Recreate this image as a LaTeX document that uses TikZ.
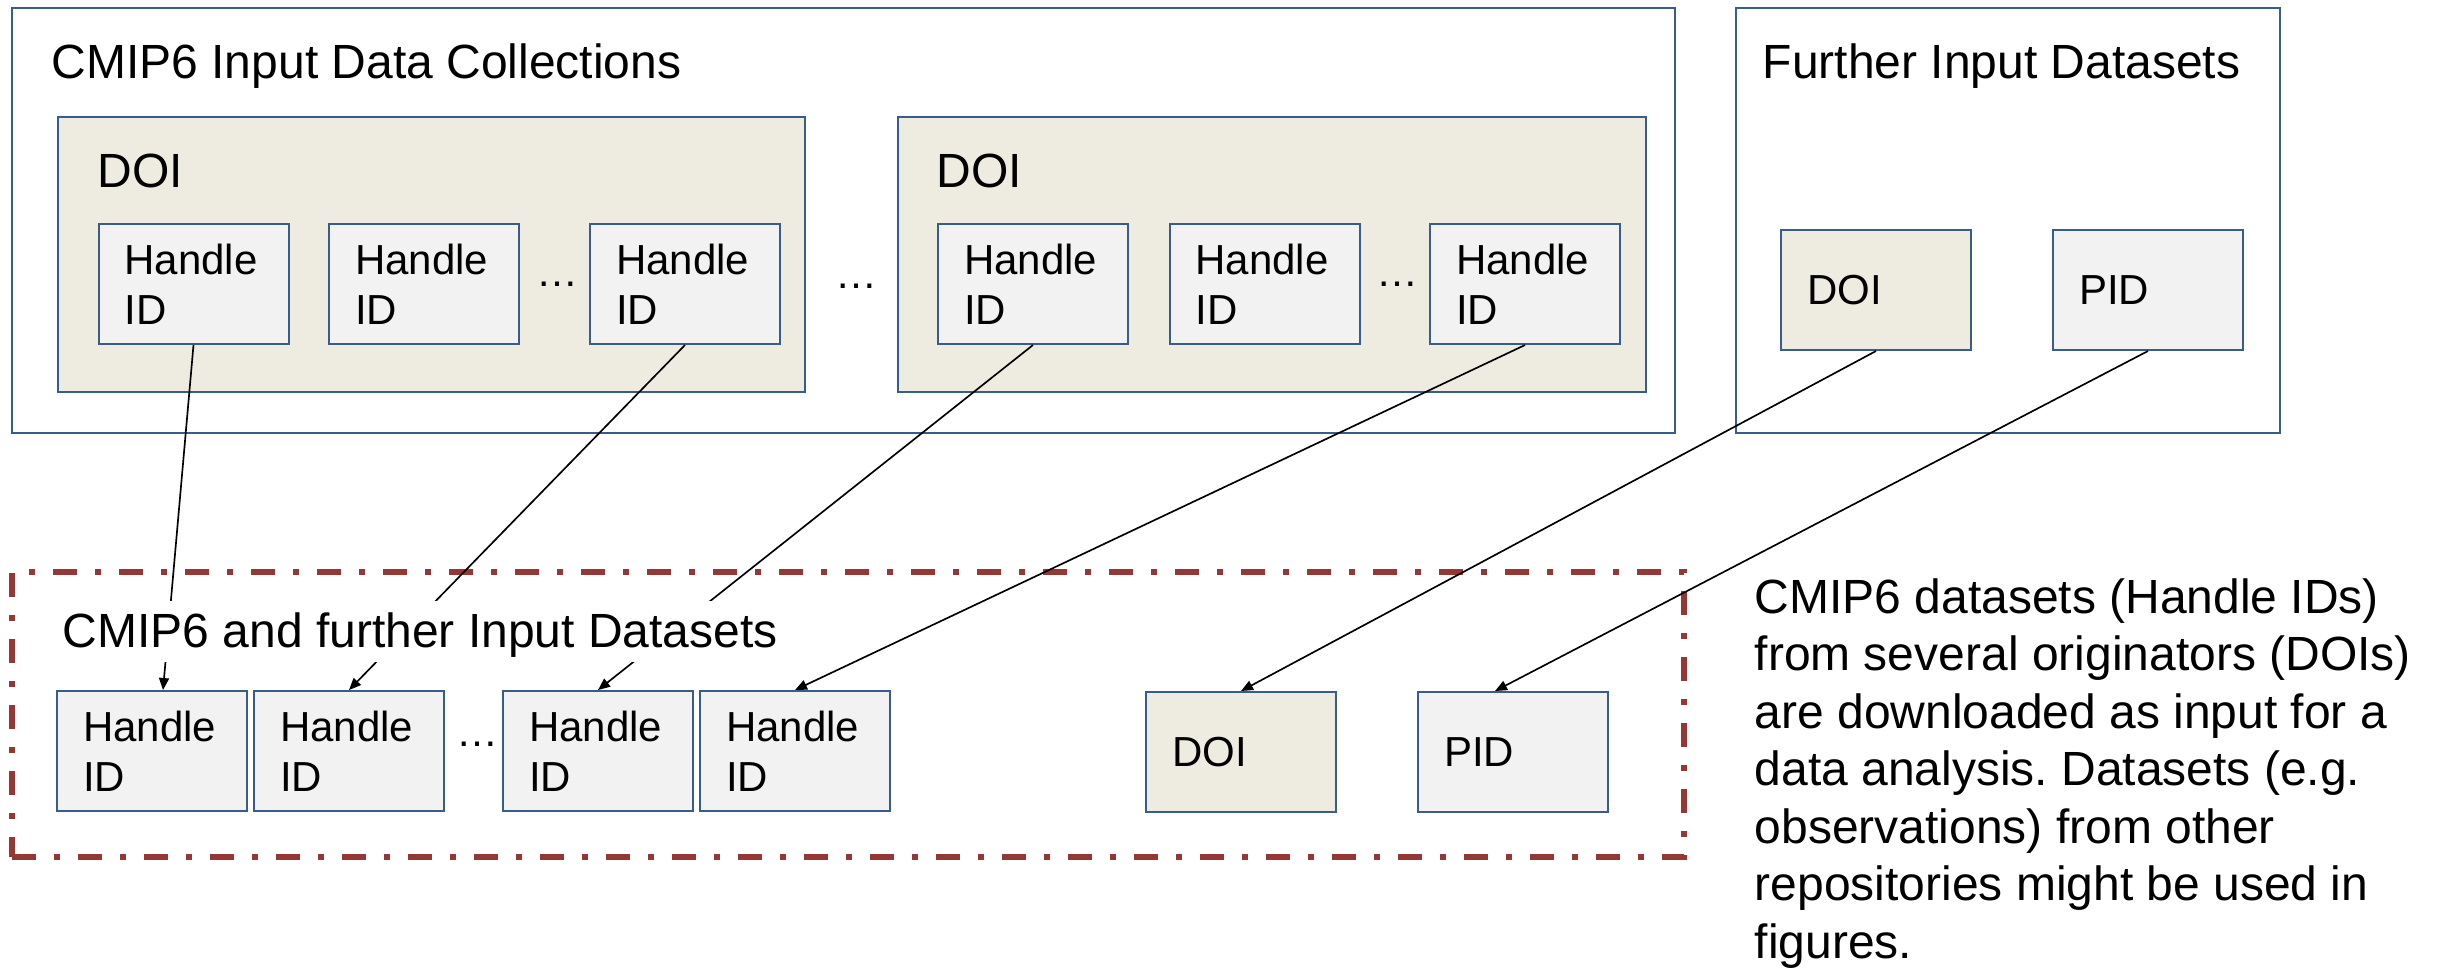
\documentclass[tikz,border=0pt]{standalone}
\usepackage{fontspec}
\setmainfont{Liberation Sans}
\usetikzlibrary{fit,calc,arrows.meta}
\definecolor{bordc}{HTML}{385D8A}
\definecolor{beige}{HTML}{EEECE1}
\definecolor{lgray}{HTML}{F2F2F2}
\definecolor{dred}{HTML}{953735}
\frenchspacing
\begin{document}
\begin{tikzpicture}[x=0.3pt,y=-0.3pt,
  frame/.style={draw=bordc, line width=0.6pt, inner sep=0pt},
  bigfont/.style={font=\fontsize{14.4}{17}\selectfont},
  smallfont/.style={font=\fontsize{12.6}{15}\selectfont},
  hbox/.style={frame, fill=lgray, smallfont, minimum width=57pt, minimum height=36pt,
     text width=41.4pt, inner xsep=7.8pt, inner ysep=0pt, align=left},
  dbox/.style={hbox, fill=beige},
  conn/.style={draw=black, line width=0.5pt, -{Triangle[length=3.6pt,width=3pt]}},
  dotsnode/.style={smallfont, anchor=base, inner sep=0pt}
]
\useasboundingbox (0,0) rectangle (2438,968);

% top left collection frame
\node[frame, fit={(12,8) (1675,433)}] (outerA) {};
\node[bigfont, anchor=base west, inner sep=0pt] (titleA) at (51,78) {CMIP6 Input Data Collections};

\node[frame, fill=beige, fit={(57.5,117) (805,392)}] (doiA) {};
\node[bigfont, anchor=base west, inner sep=0pt] (doiAlbl) at (97,187) {DOI};
\node[hbox] (h1) at (193.5,284) {Handle\\ID};
\node[hbox] (h2) at (424,284) {Handle\\ID};
\node[dotsnode] (dA) at (557,286) {…};
\node[hbox] (h3) at (685,284) {Handle\\ID};

\node[dotsnode] (dM) at (856,288) {…};

\node[frame, fill=beige, fit={(897.5,117) (1645.5,392)}] (doiB) {};
\node[bigfont, anchor=base west, inner sep=0pt] (doiBlbl) at (936,187) {DOI};
\node[hbox] (h4) at (1033,284) {Handle\\ID};
\node[hbox] (h5) at (1264.5,284) {Handle\\ID};
\node[dotsnode] (dB) at (1397,286) {…};
\node[hbox] (h6) at (1525,284) {Handle\\ID};

% top right frame
\node[frame, fit={(1736,8) (2280,433)}] (outerB) {};
\node[bigfont, anchor=base west, inner sep=0pt] (titleB) at (1762,78) {Further Input Datasets};
\node[dbox] (sdoi) at (1876,290) {DOI};
\node[hbox] (spid) at (2148,290) {PID};

% bottom dash-dotted frame
\node[draw=dred, line width=1.8pt, inner sep=0pt,
  dash pattern=on 7.2pt off 5.4pt on 1.8pt off 5.4pt,
  fit={(12,572) (1684,857)}] (lower) {};

\node[hbox] (b1) at (152,751) {Handle\\ID};
\node[hbox] (b2) at (349,751) {Handle\\ID};
\node[dotsnode] (dC) at (477,746) {…};
\node[hbox] (b3) at (598,751) {Handle\\ID};
\node[hbox] (b4) at (795,751) {Handle\\ID};
\node[dbox] (bdoi) at (1241,752) {DOI};
\node[hbox] (bpid) at (1513,752) {PID};

% connectors
\draw[conn] (h1.south) -- ($(b1.north)+(11,0)$);
\draw[conn] (h3.south) -- (b2.north);
\draw[conn] (h4.south) -- (b3.north);
\draw[conn] (h6.south) -- (b4.north);
\draw[conn] (sdoi.south) -- (bdoi.north);
\draw[conn] (spid.south) -- ($(bpid.north)+(-18,0)$);

% label of lower frame (white background over the connectors)
\node[bigfont, anchor=base west, fill=white, inner xsep=3pt, inner ysep=0pt,
  text height=13.8pt, text depth=4.5pt] (lowerlbl) at (52,647) {CMIP6 and further Input Datasets};

% explanatory paragraph
\node[font=\fontsize{14.4}{17.25}\selectfont, anchor=north west, inner sep=0pt, align=left] (para) at (1754,578)
 {CMIP6 datasets (Handle IDs)\\from several originators (DOIs)\\are downloaded as input for a\\data analysis. Datasets (e.g.\\observations) from other\\repositories might be used in\\figures.};
\end{tikzpicture}
\end{document}
